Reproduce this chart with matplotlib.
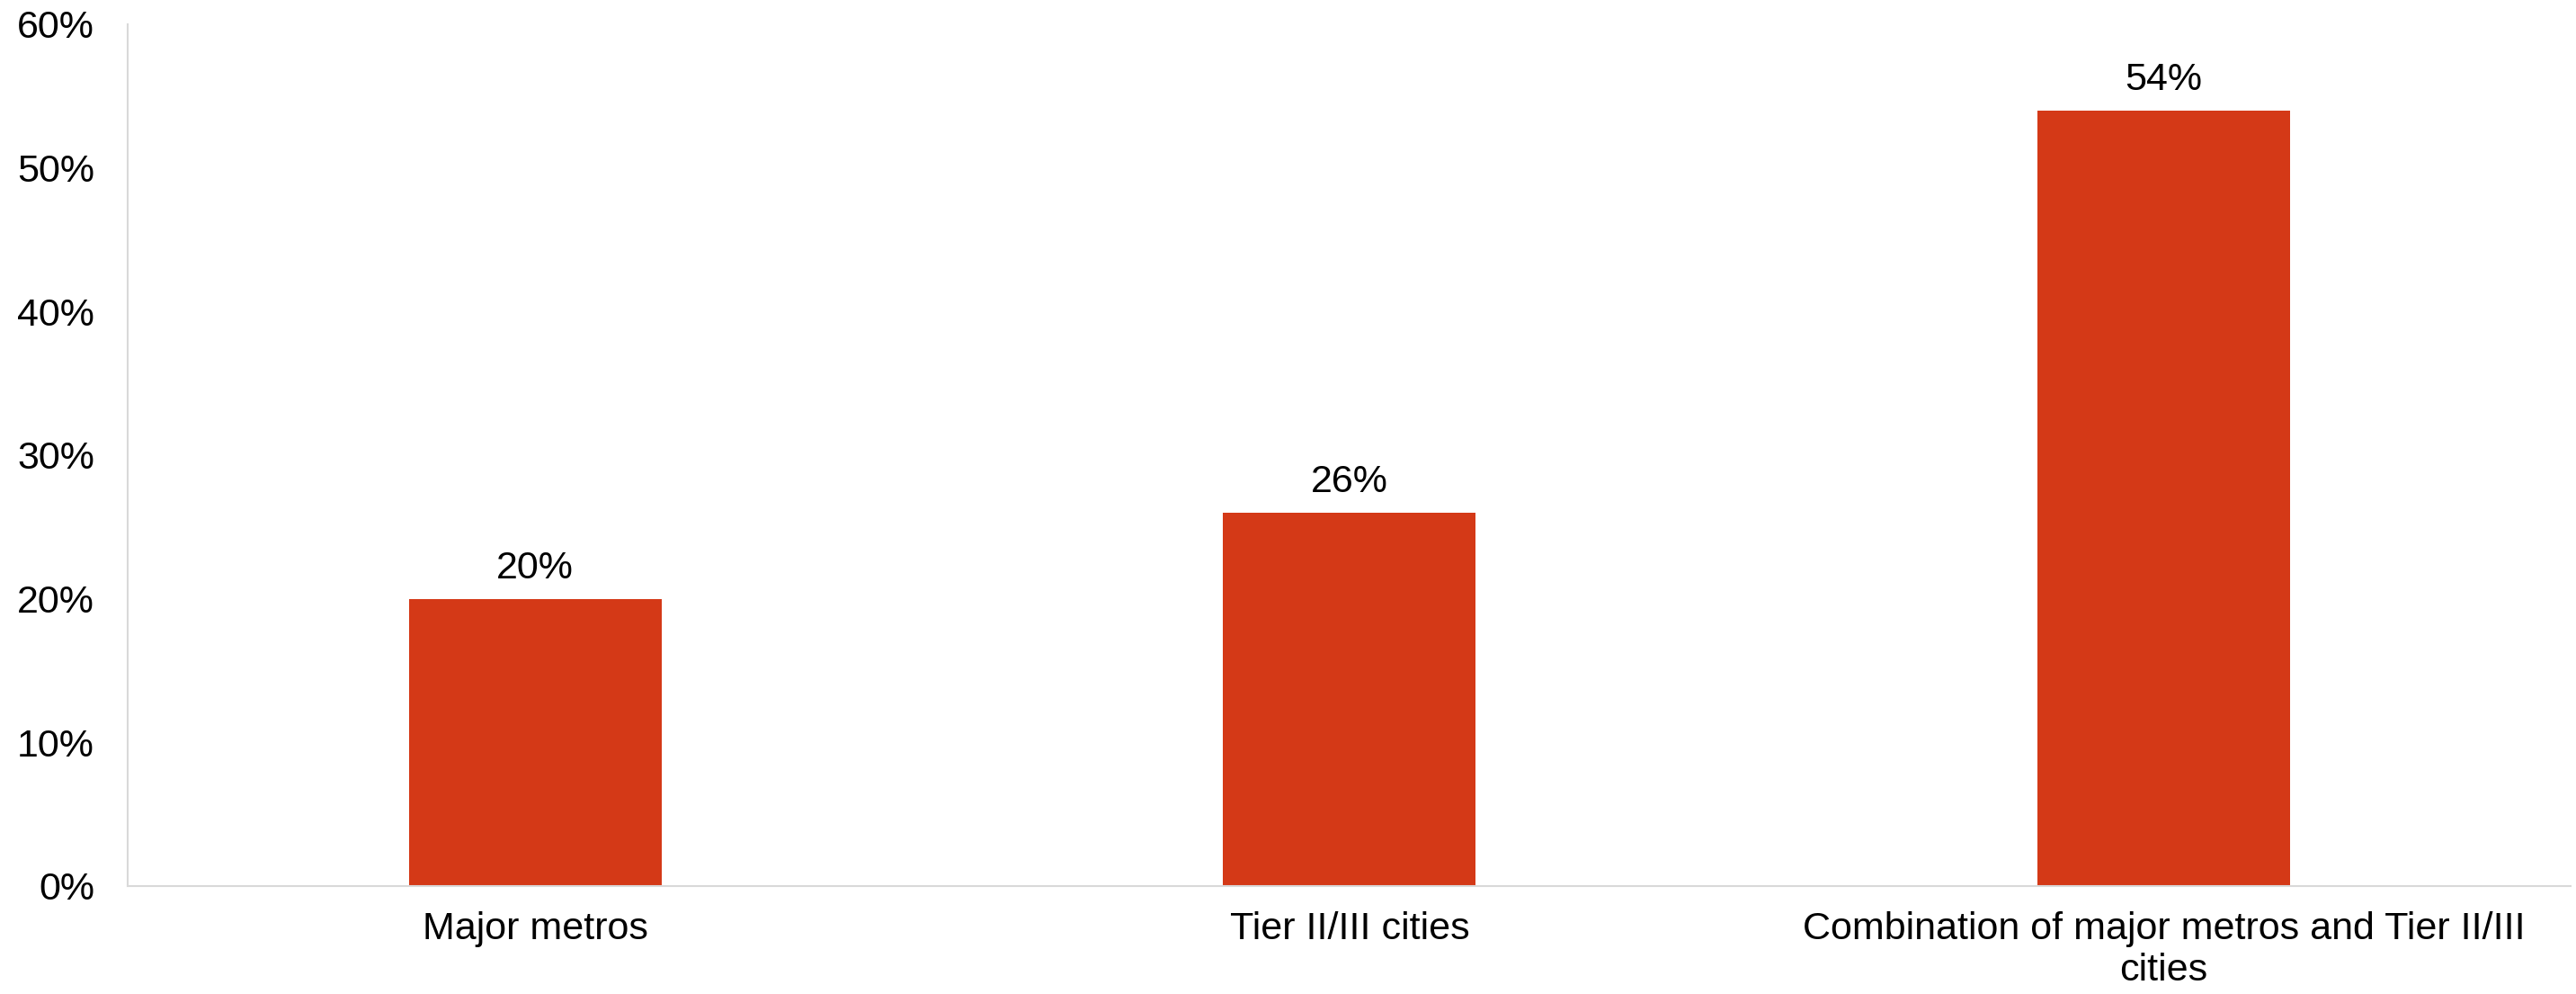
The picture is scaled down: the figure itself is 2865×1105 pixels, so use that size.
import matplotlib
matplotlib.use("Agg")
import matplotlib.pyplot as plt
from matplotlib.ticker import FuncFormatter

plt.rcParams['font.family'] = ['Liberation Sans', 'DejaVu Sans']

categories = ['Major metros', 'Tier II/III cities',
              'Combination of major metros and Tier II/III\ncities']
shares = [20, 26, 54]
yticks = [0, 10, 20, 30, 40, 50, 60]

bar_color = '#D43917'
spine_color = '#D9D9D9'
fs = 31

fig = plt.figure(figsize=(28.65, 11.05), dpi=100)
ax = fig.add_axes([0.0497, 0.1086, 0.9483, 0.8670])

x = list(range(len(categories)))
bars = ax.bar(x, shares, width=0.31, color=bar_color)

# value labels above each bar
for rect, v in zip(bars, shares):
    ax.annotate('%d%%' % v, (rect.get_x() + rect.get_width() / 2, v),
                xytext=(0, 10), textcoords='offset points',
                ha='center', va='bottom', fontsize=fs, color='black')

ax.set_xlim(-0.5, 2.5)
ax.set_ylim(0, 60)
ax.set_yticks(yticks)
ax.yaxis.set_major_formatter(FuncFormatter(lambda v, p: '%d%%' % v))
ax.set_xticks(x)
ax.set_xticklabels(categories, fontsize=fs, linespacing=1.2)
ax.tick_params(axis='y', length=0, pad=27, labelsize=fs)
ax.tick_params(axis='x', length=0, pad=20)

for s in ['top', 'right']:
    ax.spines[s].set_visible(False)
for s in ['left', 'bottom']:
    ax.spines[s].set_color(spine_color)
    ax.spines[s].set_linewidth(1.5)

fig.savefig('out.png', dpi=100)
